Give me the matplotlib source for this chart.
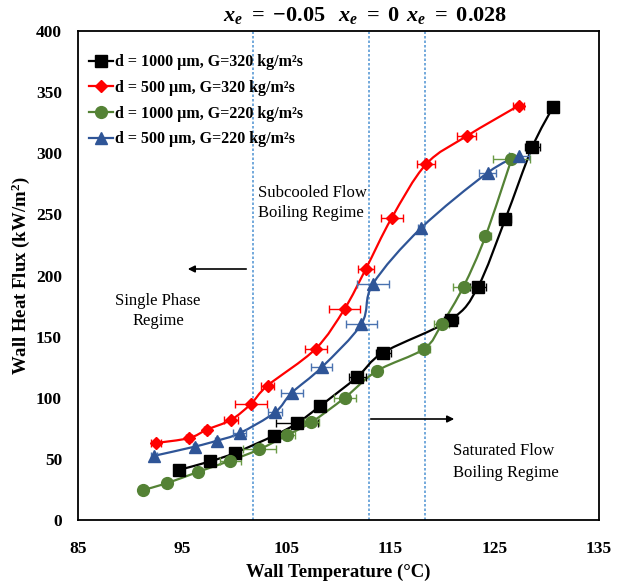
import numpy as np
import matplotlib
matplotlib.use("Agg")
import matplotlib.pyplot as plt
from matplotlib.path import Path
from matplotlib.patches import PathPatch
from matplotlib.lines import Line2D

plt.rcParams['font.family'] = ['Liberation Serif', 'DejaVu Serif']
plt.rcParams['mathtext.fontset'] = 'custom'
plt.rcParams['mathtext.rm'] = 'Liberation Serif:bold'
plt.rcParams['mathtext.it'] = 'Liberation Serif:italic:bold'
plt.rcParams['mathtext.bf'] = 'Liberation Serif:bold'

# ---- data ----
labels = ["d = 1000 µm, G=320 kg/m²s", "d = 500 µm, G=320 kg/m²s",
          "d = 1000 µm, G=220 kg/m²s", "d = 500 µm, G=220 kg/m²s"]

t_1000_320 = [94.7, 97.7, 100.1, 103.8, 106.0, 108.2, 111.8, 114.3, 120.8, 123.4, 126.0, 128.6, 130.6]
q_1000_320 = [41, 48, 55, 69, 79, 93, 117, 137, 164, 191, 246, 305, 338]
e_1000_320 = [0.2, 0.2, 0.3, 0.5, 2.0, 0.3, 0.8, 0.7, 0.7, 0.8, 0.55, 0.7, 0.3]

t_500_320 = [92.5, 95.65, 97.4, 99.7, 101.6, 103.2, 107.8, 110.6, 112.6, 115.1, 118.4, 122.3, 127.3]
q_500_320 = [63, 67, 74, 82, 95, 110, 140, 173, 205, 247, 291, 314, 339]
e_500_320 = [0.5, 0.3, 0.3, 0.7, 1.5, 0.65, 1.05, 1.5, 0.77, 1.05, 0.83, 0.9, 0.55]

t_1000_220 = [91.2, 93.5, 96.5, 99.6, 102.4, 105.1, 107.4, 110.6, 113.7, 118.2, 119.9, 122.0, 124.1, 126.6]
q_1000_220 = [24.5, 30, 39.3, 48.5, 57.8, 69.5, 80, 100, 122, 140, 160, 191, 232, 295]
e_1000_220 = [0.3, 0.1, 0.1, 1.0, 1.6, 0.7, 0.7, 1.05, 0.3, 0.55, 0.7, 1.05, 0.5, 1.75]

t_500_220 = [92.3, 96.2, 98.3, 100.5, 103.9, 105.5, 108.4, 112.2, 113.3, 117.9, 124.3, 127.3]
q_500_220 = [52.5, 60, 64.8, 71, 88, 104, 125, 160.5, 193, 238.6, 284, 298]
e_500_220 = [0.3, 0.2, 0.2, 0.6, 0.7, 1.05, 1.0, 1.5, 1.5, 0.3, 0.85, 0.95]

xe_positions = [101.8, 112.9, 118.3]
xe_labels = [r'$x_e\ =\ {-}0.05$', r'$x_e\ =\ 0$', r'$x_e\ =\ 0.028$']

series = [
    (t_1000_320, q_1000_320, e_1000_320, 'black', 's', 8, 'black'),
    (t_500_320, q_500_320, e_500_320, '#FF0000', 'D', 6.5, '#FF0000'),
    (t_1000_220, q_1000_220, e_1000_220, '#548235', 'o', 8.5, '#6A9A45'),
    (t_500_220, q_500_220, e_500_220, '#2F5597', '^', 9, '#4A72B0'),
]

fig = plt.figure(figsize=(6.17, 5.82), dpi=100)
ax = fig.add_axes([78/617, 62/582, 521/617, 489/582])
ax.set_xlim(85, 135)
ax.set_ylim(0, 400)


def smooth_path(x, y):
    x = np.asarray(x, float)
    y = np.asarray(y, float)
    pts = np.column_stack([x, y])
    n = len(pts)
    verts = [pts[0]]
    codes = [Path.MOVETO]
    for i in range(n - 1):
        p0 = pts[i - 1] if i > 0 else pts[i]
        p1 = pts[i]
        p2 = pts[i + 1]
        p3 = pts[i + 2] if i + 2 < n else pts[i + 1]
        c1 = p1 + (p2 - p0) / 6.0
        c2 = p2 - (p3 - p1) / 6.0
        verts += [c1, c2, p2]
        codes += [Path.CURVE4] * 3
    return Path(verts, codes)


handles = []
for (t, q, e, col, mk, ms, ecol) in series:
    ax.add_patch(PathPatch(smooth_path(t, q), fill=False, edgecolor=col, lw=1.6, zorder=3))
    ax.errorbar(t, q, xerr=e, fmt='none', ecolor=ecol, elinewidth=1.0, capsize=3, capthick=1.0, zorder=4)
    ax.plot(t, q, linestyle='none', marker=mk, color=col, markersize=ms, zorder=5)
    handles.append(Line2D([], [], color=col, lw=1.6, marker=mk, markersize=ms))

for xv in xe_positions:
    ax.axvline(xv, color='#5B9BD5', lw=1.2, linestyle=(0, (1.5, 1.2)), zorder=2)

leg = ax.legend(handles, labels, loc='upper left', bbox_to_anchor=(0.0, 0.975), frameon=False,
                prop={'family': 'Liberation Serif', 'weight': 'bold', 'size': 11.5},
                handlelength=1.5, handletextpad=0.1, labelspacing=0.6, borderaxespad=0.3)

# top labels
top_x = [274, 369, 457]
for px, lab in zip(top_x, xe_labels):
    fig.text(px / 617, 1 - 16 / 582, lab, ha='center', va='center', fontsize=16)

# annotations
fs_ann = 12
fig.text(258 / 617, 1 - 203 / 582, "Subcooled Flow\nBoiling Regime", ha='left', va='center',
         fontsize=fs_ann, linespacing=1.4)
fig.text(158 / 617, 1 - 311 / 582, "Single Phase\nRegime", ha='center', va='center',
         fontsize=fs_ann, linespacing=1.4, multialignment='center')
fig.text(453 / 617, 1 - 462 / 582, "Saturated Flow\nBoiling Regime", ha='left', va='center',
         fontsize=fs_ann, linespacing=1.45)

ax.annotate('', xy=(185 / 617, 1 - 269 / 582), xytext=(249 / 617, 1 - 269 / 582),
            xycoords='figure fraction', textcoords='figure fraction',
            arrowprops=dict(arrowstyle='-|>', color='black', lw=1.2, mutation_scale=10))
ax.annotate('', xy=(457 / 617, 1 - 419 / 582), xytext=(368 / 617, 1 - 419 / 582),
            xycoords='figure fraction', textcoords='figure fraction',
            arrowprops=dict(arrowstyle='-|>', color='black', lw=1.2, mutation_scale=10))

ax.set_xticks([85, 95, 105, 115, 125, 135])
ax.set_yticks(range(0, 401, 50))
ax.tick_params(length=0, labelsize=12.5)
ax.tick_params(axis='x', pad=15)
ax.tick_params(axis='y', pad=11.5)
for lab in ax.get_xticklabels() + ax.get_yticklabels():
    lab.set_fontweight('bold')

ax.set_xlabel('Wall Temperature (°C)', fontsize=13.5, fontweight='bold', labelpad=5)
ax.set_ylabel(r'Wall Heat Flux (kW/m$^2$)', fontsize=13.5, fontweight='bold', labelpad=3)

for s in ax.spines.values():
    s.set_linewidth(1.3)

fig.savefig('out.png', dpi=100)
